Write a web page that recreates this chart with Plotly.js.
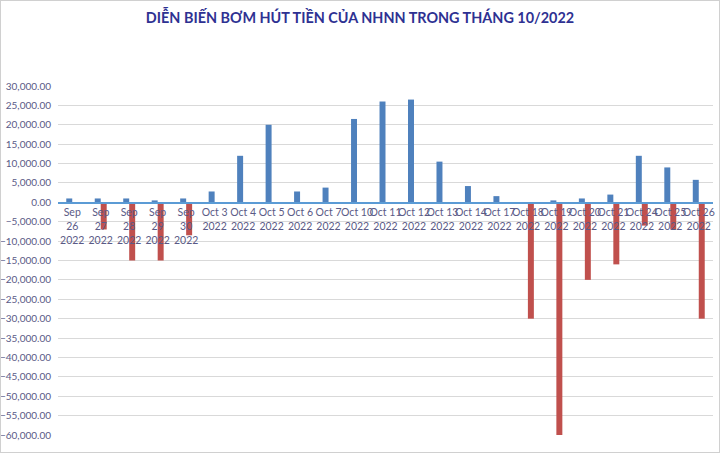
<!DOCTYPE html>
<html>
<head>
<meta charset="utf-8">
<script src="https://cdn.plot.ly/plotly-3.0.1.min.js"></script>
<style>
  html, body { margin: 0; padding: 0; background: #fff; }
  #plot { width: 718px; height: 451px; border: 1px solid #d0d0d0; }
</style>
</head>
<body>
<div id="plot"></div>
<script>
// ngày giao dịch
let days = ['Sep 26', 'Sep 27', 'Sep 28', 'Sep 29', 'Sep 30', 'Oct 3', 'Oct 4', 'Oct 5', 'Oct 6',
  'Oct 7', 'Oct 10', 'Oct 11', 'Oct 12', 'Oct 13', 'Oct 14', 'Oct 17', 'Oct 18', 'Oct 19',
  'Oct 20', 'Oct 21', 'Oct 24', 'Oct 25', 'Oct 26'];
let dayLabels = ['Sep<br>26<br>2022', 'Sep<br>27<br>2022', 'Sep<br>28<br>2022', 'Sep<br>29<br>2022',
  'Sep<br>30<br>2022', 'Oct 3<br>2022', 'Oct 4<br>2022', 'Oct 5<br>2022', 'Oct 6<br>2022',
  'Oct 7<br>2022', 'Oct 10<br>2022', 'Oct 11<br>2022', 'Oct 12<br>2022', 'Oct 13<br>2022',
  'Oct 14<br>2022', 'Oct 17<br>2022', 'Oct 18<br>2022', 'Oct 19<br>2022', 'Oct 20<br>2022',
  'Oct 21<br>2022', 'Oct 24<br>2022', 'Oct 25<br>2022', 'Oct 26<br>2022'];

// bơm (dương) và hút (âm), tỷ đồng
let injected = [1000, 1000, 1000, 500, 1000, 2800, 12000, 20000, 2800, 3800, 21500, 26000,
  26500, 10500, 4200, 1600, null, 500, 1000, 2000, 12000, 9000, 5800];
let withdrawn = [null, -7000, -15000, -15000, -8500, null, null, null, null, null, null, null,
  null, null, null, null, -30000, -60000, -20000, -16000, -6000, -7000, -30000];

let textColor = '#5a5a86';

let data = [
  {
    x: days,
    y: injected,
    type: 'bar',
    name: 'Bơm',
    marker: {color: '#4f81bd'}
  },
  {
    x: days,
    y: withdrawn,
    type: 'bar',
    name: 'Hút',
    marker: {color: '#c0504d'}
  }
];

let layout = {
  width: 718,
  height: 451,
  margin: {l: 57, r: 6, t: 85, b: 17},
  paper_bgcolor: '#fff',
  plot_bgcolor: '#fff',
  showlegend: false,
  barmode: 'group',
  bargap: 0.58,
  bargroupgap: 0,
  title: {
    text: '<b>DIỄN BIẾN BƠM HÚT TIỀN CỦA NHNN TRONG THÁNG 10/2022</b>',
    font: {family: 'Lato, sans-serif', size: 14.4, color: '#2e3192'},
    x: 0.5,
    xanchor: 'center',
    yref: 'container',
    y: 0.962,
    yanchor: 'middle'
  },
  xaxis: {
    type: 'category',
    tickvals: days,
    ticktext: dayLabels,
    tickangle: 0,
    anchor: 'free',
    position: 60000 / 90000,
    showline: true,
    linecolor: '#5b9bd5',
    linewidth: 1.5,
    ticks: '',
    showgrid: false,
    tickfont: {family: 'Lato, sans-serif', size: 10.5, color: textColor}
  },
  yaxis: {
    range: [-60000, 30000],
    dtick: 5000,
    tickformat: ',.2f',
    showgrid: true,
    gridcolor: '#d9d9d9',
    gridwidth: 1,
    zeroline: false,
    ticks: '',
    ticklabelstandoff: 6,
    tickfont: {family: 'Lato, sans-serif', size: 10, color: textColor}
  }
};

Plotly.newPlot('plot', data, layout, {displayModeBar: false, staticPlot: true});
</script>
</body>
</html>
